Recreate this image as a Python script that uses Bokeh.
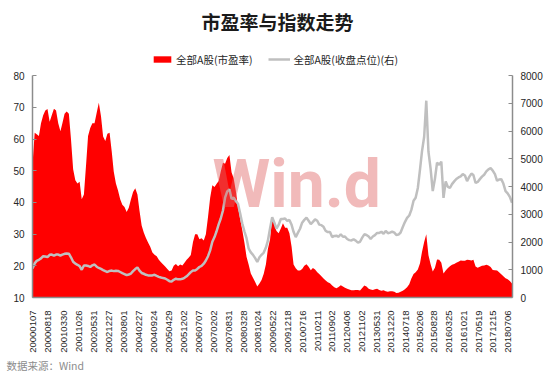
import math
import pandas as pd
from bokeh.plotting import figure
from bokeh.models import (Range1d, LinearAxis, FixedTicker, DatetimeTickFormatter,
                          Legend, LegendItem, Label, Title, ColumnDataSource)
from bokeh.embed import file_html
from bokeh.resources import INLINE

# ---------------- data (monthly readings from the chart) ----------------
start_date = "2000-01-07"
end_date = "2018-09-14"

pe = [
    52, 62, 61.5, 61, 65, 67.5, 69, 69.5, 65.5, 67.5,
    69.6, 69, 65, 62.5, 65, 68, 68.7, 68, 60, 50.5,
    47, 46, 46.5, 41, 42.5, 52, 61, 63.5, 65, 65,
    68.2, 71.5, 67.2, 60.8, 59.4, 61.7, 62, 56, 49.8, 46,
    43.8, 41, 39.3, 38.6, 37, 38.3, 41, 43.3, 44.5, 42.5,
    37.5, 32.7, 30.5, 28.8, 27.4, 26, 24.2, 23.5, 23, 21.9,
    21.1, 20.4, 19.8, 19, 18.3, 18.5, 20, 20.6, 19.9, 20.4,
    20.1, 21, 21.9, 22.6, 23.4, 27.5, 30, 30, 28.4, 28.7,
    28, 30, 35.5, 41.5, 45.4, 44.9, 45.8, 46.8, 49.8, 52.5,
    52.2, 54, 55, 49.5, 47.6, 43.6, 38.6, 34.7, 31.4, 27.4,
    22.9, 20.3, 17.6, 16.2, 14.9, 13.5, 14.4, 15.5, 17.5, 20.5,
    25.3, 28.4, 35.5, 33, 31, 30.3, 31.8, 33.4, 32, 32,
    30.3, 26, 20.4, 19.2, 18.5, 18.5, 19, 20, 20.5, 19.7,
    18.6, 19.3, 18.8, 18, 17.4, 16.7, 16, 15.4, 14.8, 14.5,
    13.8, 13.2, 12.9, 13.3, 13.9, 13.5, 13.1, 12.8, 12.5, 12.3,
    12.3, 12.4, 12.4, 12.2, 13, 13.8, 13.5, 12.8, 12.5, 12.4,
    12.6, 12.8, 12.4, 12.1, 12.3, 12, 11.8, 12, 12, 11.8,
    11.4, 11.5, 11.8, 12.1, 12.6, 13.2, 14.2, 16, 17.4, 18,
    18.8, 20.8, 24.4, 27.5, 30, 23.3, 20.6, 18.2, 19.4, 22,
    21.9, 21, 17.6, 18.5, 19.2, 19.9, 20.3, 20.6, 21, 21.3,
    21.7, 21.6, 21.6, 21.9, 21.8, 21.7, 21.9, 19.8, 19.4, 19.7,
    20, 20.1, 20.3, 20.1, 19.6, 18.7, 18.6, 18.5, 18, 17.3,
    16.7, 16.1, 15.8, 15.2, 14.4,
]

close = [
    1050, 1230, 1320, 1360, 1410, 1490, 1480, 1460, 1540, 1550,
    1510, 1550, 1550, 1515, 1545, 1575, 1590, 1580, 1450, 1290,
    1220, 1180, 1130, 1000, 1154, 1154, 1140, 1100, 1160, 1190,
    1110, 1065, 1030, 990, 950, 920, 960, 970, 952, 965,
    960, 920, 880, 845, 805, 830, 865, 950, 1025, 1085,
    970, 885, 857, 820, 797, 797, 797, 820, 780, 745,
    720, 700, 685, 640, 590, 580, 640, 678, 655, 655,
    675, 710, 765, 840, 915, 976, 976, 1030, 1100, 1140,
    1220, 1333, 1490, 1700, 2010, 2180, 2380, 2640, 2850, 3140,
    3600, 3830, 3900, 3560, 3600, 3480, 3380, 3030, 2680, 2390,
    2140, 1760, 1630, 1540, 1420, 1280, 1450, 1540, 1620, 1800,
    2050, 2500, 2900, 2700, 2480, 2620, 2830, 2830, 2850, 2761,
    2800, 2620, 2370, 2180, 2330, 2480, 2700, 2800, 2880, 2770,
    2650, 2730, 2820, 2770, 2630, 2610, 2550, 2400, 2360, 2360,
    2180, 2220, 2230, 2190, 2280, 2190, 2200, 2110, 2070, 2060,
    2100, 2050, 1980, 2010, 2160, 2280, 2255, 2200, 2110, 2200,
    2250, 2330, 2330, 2370, 2300, 2400, 2320, 2340, 2380, 2340,
    2255, 2270, 2345, 2540, 2720, 2870, 2960, 3160, 3490, 3600,
    3950, 4620, 5270, 5800, 7100, 5260, 4660, 3840, 4280, 4860,
    4790, 4900, 3594, 4190, 4000, 3950, 4090, 4190, 4275, 4330,
    4367, 4450, 4400, 4200, 4350, 4470, 4420, 4130, 4170, 4270,
    4360, 4430, 4550, 4625, 4665, 4580, 4450, 4210, 4260, 4270,
    4110, 3840, 3760, 3630, 3420,
]

x_labels = [
    "20000107", "20000818", "20010330", "20011026", "20020531", "20021227",
    "20030801", "20040227", "20040924", "20050429", "20051202", "20060707",
    "20070202", "20070831", "20080328", "20081024", "20090522", "20091218",
    "20100716", "20110211", "20110902", "20120406", "20121102", "20130531",
    "20131220", "20140718", "20150206", "20150828", "20160325", "20161021",
    "20170519", "20171215", "20180706",
]
left_ticks = [10, 20, 30, 40, 50, 60, 70, 80]
right_ticks = [0, 1000, 2000, 3000, 4000, 5000, 6000, 7000, 8000]

title_text = "市盈率与指数走势"
series_pe_name = "全部A股(市盈率)"
series_close_name = "全部A股(收盘点位)(右)"
source_text = "数据来源：Wind"
watermark_text = "Win.d"

# ---------------- layout (pixels) ----------------
W, H = 545, 372
FRAME_L, FRAME_R, FRAME_B = 32, 512, 300      # frame edges on the canvas
AXIS_TOP = 76                                 # where the top tick (80 / 8000) sits
FRAME_T = 0
head_px = AXIS_TOP - FRAME_T
left_lo, left_hi = left_ticks[0], left_ticks[-1]
right_lo, right_hi = right_ticks[0], right_ticks[-1]
span_px = FRAME_B - AXIS_TOP
left_end = left_hi + head_px * (left_hi - left_lo) / span_px
right_end = right_hi + head_px * (right_hi - right_lo) / span_px

# ---------------- build ----------------
dates = pd.date_range(start_date, periods=len(pe), freq=pd.DateOffset(months=1))
src = ColumnDataSource(dict(date=dates, pe=pe, close=close))

CJK = "Noto Sans CJK SC"
NUM = "Liberation Sans"

p = figure(width=W, height=H, x_axis_type="datetime",
           x_range=Range1d(pd.Timestamp(start_date), pd.Timestamp(end_date)),
           y_range=Range1d(left_lo, left_end),
           output_backend="svg", toolbar_location=None, title_location=None,
           min_border_left=FRAME_L, min_border_right=W - FRAME_R,
           min_border_top=FRAME_T, min_border_bottom=H - FRAME_B)
p.extra_y_ranges = {"idx": Range1d(right_lo, right_end)}
p.outline_line_color = None
p.grid.visible = False
p.background_fill_color = "white"
p.border_fill_color = "white"

area = p.varea(x="date", y1=0, y2="pe", source=src, fill_color="#FF0000")
line = p.line(x="date", y="close", source=src, y_range_name="idx",
              line_color="#BFBFBF", line_width=2.5)

# x axis
tick_ms = [pd.to_datetime(s, format="%Y%m%d").value // 10**6 for s in x_labels]
xa = p.xaxis[0]
xa.ticker = FixedTicker(ticks=tick_ms)
fmt = "%Y%m%d"
xa.formatter = DatetimeTickFormatter(microseconds=fmt, milliseconds=fmt, seconds=fmt,
                                     minsec=fmt, minutes=fmt, hourmin=fmt, hours=fmt,
                                     days=fmt, months=fmt, years=fmt)
xa.major_label_orientation = math.pi / 2
xa.major_tick_line_color = None
xa.minor_tick_line_color = None
xa.axis_line_color = "#8C8C8C"
xa.axis_line_width = 1.5
xa.major_label_text_font = NUM
xa.major_label_text_font_size = "9.5px"
xa.major_label_text_color = "#262626"
xa.major_label_standoff = 7


def style_y(ax, ticks):
    ax.ticker = FixedTicker(ticks=ticks)
    ax.bounds = (ticks[0], ticks[-1])
    ax.major_tick_in = 4
    ax.major_tick_out = 0
    ax.minor_tick_line_color = None
    ax.axis_line_color = "#8C8C8C"
    ax.major_tick_line_color = "#8C8C8C"
    ax.axis_line_width = 1.5
    ax.major_label_text_font = NUM
    ax.major_label_text_font_size = "10px"
    ax.major_label_text_color = "#262626"
    ax.major_label_standoff = 8


style_y(p.yaxis[0], left_ticks)
ra = LinearAxis(y_range_name="idx")
style_y(ra, right_ticks)
p.add_layout(ra, "right")

# legend (inside the extended frame, above the data area)
legend = Legend(items=[LegendItem(label=series_pe_name, renderers=[area]),
                       LegendItem(label=series_close_name, renderers=[line])],
                orientation="horizontal",
                location=(151 - FRAME_L, FRAME_B - 70),
                border_line_color=None, background_fill_alpha=0,
                label_text_font=CJK, label_text_font_size="10.5px",
                label_text_color="#262626",
                glyph_width=22, glyph_height=8, label_height=16,
                spacing=16, label_standoff=3, padding=0, margin=0)
p.add_layout(legend)

title = Label(x=277 - FRAME_L, y=FRAME_B - 24, x_units="screen", y_units="screen",
              text=title_text, text_font=CJK, text_font_size="19px",
              text_font_style="bold", text_color="#1a1a1a",
              text_align="center", text_baseline="middle")
p.add_layout(title)

# watermark
wm = Label(x=212 - FRAME_L, y=FRAME_B - 187, x_units="screen", y_units="screen",
           text=watermark_text, text_font="Roboto", text_font_style="bold",
           text_font_size="66px", text_color="#E06666", text_alpha=0.45,
           text_baseline="alphabetic")
p.add_layout(wm)

# source note under the axis
src_title = Title(text=source_text, align="left", offset=6 - FRAME_L, standoff=0,
                  text_font=CJK, text_font_size="10.5px", text_font_style="normal",
                  text_color="#8C8C8C")
p.add_layout(src_title, "below")

open("out.html", "w").write(file_html(p, INLINE))
